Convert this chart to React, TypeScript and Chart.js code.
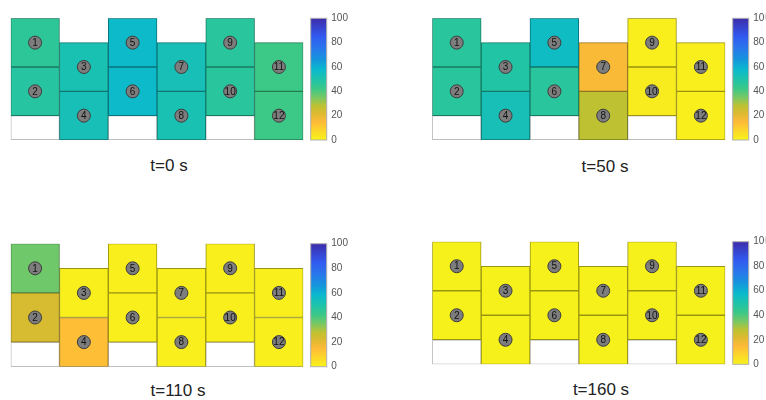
import React, { useEffect, useRef } from 'react';
import { Chart, registerables } from 'chart.js';
Chart.register(...registerables);

// ---- data ----
const columns = ['C1', 'C2', 'C3', 'C4', 'C5', 'C6'];
const cellIds = [1, 2, 3, 4, 5, 6, 7, 8, 9, 10, 11, 12];
const cellColumn = [0, 0, 1, 1, 2, 2, 3, 3, 4, 4, 5, 5];
const cellLow = [1.5, 0.5, 1, 0, 1.5, 0.5, 1, 0, 1.5, 0.5, 1, 0];
const cellHigh = [2.5, 1.5, 2, 1, 2.5, 1.5, 2, 1, 2.5, 1.5, 2, 1];
const emptyColumns = [0, 2, 4];
const emptyLow = 0;
const emptyHigh = 0.5;
const gridTop = 2.5;

const timesS = [0, 50, 110, 160];
const valuesT0 = [46, 48, 52, 53, 57, 57, 53, 52, 47, 47, 42, 42];
const valuesT50 = [47, 47, 49, 53, 56, 47, 16, 28, 1, 2, 1, 1];
const valuesT110 = [36, 23, 1, 14, 1, 1, 1, 1, 1, 1, 1, 1];
const valuesT160 = [0.5, 0.5, 0.5, 0.5, 0.5, 0.5, 0.5, 0.5, 0.5, 0.5, 0.5, 0.5];
const panelValues = [valuesT0, valuesT50, valuesT110, valuesT160];

const colorbarMin = 0;
const colorbarMax = 100;
const colorbarStep = 20;

const cmapStops = [0, 8, 15, 22, 28, 35, 42, 50, 58, 66, 75, 85, 100];
const cmapColors = ['#f7f31a', '#fcd52a', '#feba38', '#dcba30', '#bec232', '#78c864', '#3cc887', '#1ec3aa', '#0ab9cd', '#1496dc', '#2878eb', '#325af0', '#3c2caa'];

// ---- helpers ----
function hexToRgb(h: string) {
  const n = parseInt(h.slice(1), 16);
  return [(n >> 16) & 255, (n >> 8) & 255, n & 255];
}
function colormap(v: number): number[] {
  if (v <= cmapStops[0]) return hexToRgb(cmapColors[0]);
  for (let i = 1; i < cmapStops.length; i++) {
    if (v <= cmapStops[i]) {
      const t = (v - cmapStops[i - 1]) / (cmapStops[i] - cmapStops[i - 1]);
      const a = hexToRgb(cmapColors[i - 1]);
      const b = hexToRgb(cmapColors[i]);
      return a.map((c, k) => Math.round(c + (b[k] - c) * t));
    }
  }
  return hexToRgb(cmapColors[cmapColors.length - 1]);
}
const rgb = (c: number[]) => `rgb(${c[0]},${c[1]},${c[2]})`;
const darker = (c: number[]) => rgb(c.map((x) => Math.round(x * 0.62)));

const GAP = 7.4;
const BAR_W = 16;

const colorbarPlugin = {
  id: 'colorbar',
  afterDraw(chart: any) {
    const yc = chart.scales.yc;
    const ctx = chart.ctx;
    const x0 = chart.chartArea.right + GAP;
    const yBottom = yc.getPixelForValue(colorbarMin);
    const yTop = yc.getPixelForValue(colorbarMax);
    const grad = ctx.createLinearGradient(0, yBottom, 0, yTop);
    cmapStops.forEach((s, i) => {
      grad.addColorStop((s - colorbarMin) / (colorbarMax - colorbarMin), cmapColors[i]);
    });
    ctx.save();
    ctx.fillStyle = grad;
    ctx.fillRect(x0, yTop, BAR_W, yBottom - yTop);
    ctx.strokeStyle = '#b0b0b0';
    ctx.lineWidth = 1;
    ctx.strokeRect(x0, yTop, BAR_W, yBottom - yTop);
    ctx.restore();
  },
};

const markerLabelPlugin = {
  id: 'markerLabels',
  afterDatasetsDraw(chart: any) {
    const idx = chart.data.datasets.findIndex((d: any) => d.label === 'markers');
    const meta = chart.getDatasetMeta(idx);
    const ctx = chart.ctx;
    ctx.save();
    ctx.font = '10px "Liberation Sans", Arial, sans-serif';
    ctx.fillStyle = '#111';
    ctx.textAlign = 'center';
    ctx.textBaseline = 'middle';
    meta.data.forEach((pt: any, i: number) => {
      ctx.fillText(String(cellIds[i]), pt.x, pt.y + 0.5);
    });
    ctx.restore();
  },
};

type PanelSpec = {
  values: number[];
  time: number;
  left: number;
  top: number;
  width: number;
  height: number;
  axisW: number;
  pad: { left: number; right: number; top: number; bottom: number };
  label: { x: number; y: number };
};

function Panel({ spec }: { spec: PanelSpec }) {
  const ref = useRef<HTMLCanvasElement>(null);
  useEffect(() => {
    const cellSets = cellIds.map((id, i) => {
      const c = colormap(spec.values[i]);
      return {
        type: 'bar' as const,
        label: 'cell ' + id,
        data: columns.map((_, k) => (k === cellColumn[i] ? [cellLow[i], cellHigh[i]] : null)),
        backgroundColor: rgb(c),
        borderColor: darker(c),
        borderWidth: 1,
        borderSkipped: false,
        grouped: false,
        barPercentage: 1,
        categoryPercentage: 1,
        order: 1,
        yAxisID: 'y',
      };
    });
    const emptySet = {
      type: 'bar' as const,
      label: 'empty',
      data: columns.map((_, k) => (emptyColumns.includes(k) ? [emptyLow, emptyHigh] : null)),
      backgroundColor: '#ffffff',
      borderColor: '#a8a8a8',
      borderWidth: 1,
      borderSkipped: false,
      grouped: false,
      barPercentage: 1,
      categoryPercentage: 1,
      order: 2,
      yAxisID: 'y',
    };
    const markerSet = {
      type: 'line' as const,
      label: 'markers',
      data: cellIds.map((_, i) => ({ x: columns[cellColumn[i]], y: (cellLow[i] + cellHigh[i]) / 2 })),
      showLine: false,
      pointRadius: 6.5,
      pointBackgroundColor: '#7d7d7d',
      pointBorderColor: '#3c3c3c',
      pointBorderWidth: 1,
      order: 0,
      yAxisID: 'y',
    };
    const chart = new Chart(ref.current!, {
      type: 'bar',
      data: { labels: columns, datasets: [markerSet, ...cellSets, emptySet] as any },
      plugins: [colorbarPlugin, markerLabelPlugin],
      options: {
        animation: false,
        responsive: false,
        devicePixelRatio: 1,
        layout: { padding: spec.pad },
        plugins: { legend: { display: false }, tooltip: { enabled: false }, title: { display: false } },
        scales: {
          x: { display: false, offset: true },
          y: { display: false, min: 0, max: gridTop },
          yc: {
            position: 'right',
            min: colorbarMin,
            max: colorbarMax,
            grid: { display: false, drawTicks: false },
            border: { display: false },
            ticks: {
              stepSize: colorbarStep,
              padding: 28,
              color: '#555',
              font: { size: 10, family: '"Liberation Sans", Arial, sans-serif' },
            },
            afterFit: (s: any) => {
              s.width = spec.axisW;
              s.paddingTop = 0;
              s.paddingBottom = 0;
            },
          },
        },
      } as any,
    });
    return () => chart.destroy();
  }, [spec]);
  return (
    <>
      <canvas
        ref={ref}
        width={spec.width}
        height={spec.height}
        style={{ position: 'absolute', left: spec.left, top: spec.top, width: spec.width, height: spec.height }}
      />
      <div
        style={{
          position: 'absolute',
          left: spec.label.x,
          top: spec.label.y,
          transform: 'translate(-50%, -50%)',
          font: '17px "Liberation Sans", Arial, sans-serif',
          color: '#222',
          whiteSpace: 'nowrap',
        }}
      >
        {`t=${spec.time} s`}
      </div>
    </>
  );
}

const panels: PanelSpec[] = [
  { values: panelValues[0], time: timesS[0], left: 0, top: 0, width: 370, height: 150, axisW: 60, pad: { left: 10.7, right: 6.7, top: 18.3, bottom: 10 }, label: { x: 169, y: 166 } },
  { values: panelValues[1], time: timesS[1], left: 400, top: 0, width: 366, height: 150, axisW: 40, pad: { left: 32.3, right: 0.7, top: 18.3, bottom: 10 }, label: { x: 605, y: 167 } },
  { values: panelValues[2], time: timesS[2], left: 0, top: 200, width: 370, height: 180, axisW: 60, pad: { left: 10.7, right: 6.7, top: 43.7, bottom: 13.3 }, label: { x: 178, y: 391 } },
  { values: panelValues[3], time: timesS[3], left: 400, top: 200, width: 366, height: 180, axisW: 40, pad: { left: 32.3, right: 0.7, top: 41.7, bottom: 15.7 }, label: { x: 601, y: 390 } },
];

export default function App() {
  return (
    <div style={{ position: 'fixed', left: 0, top: 0, width: 766, height: 400, background: '#fff', overflow: 'hidden' }}>
      {panels.map((p, i) => (
        <Panel key={i} spec={p} />
      ))}
    </div>
  );
}
